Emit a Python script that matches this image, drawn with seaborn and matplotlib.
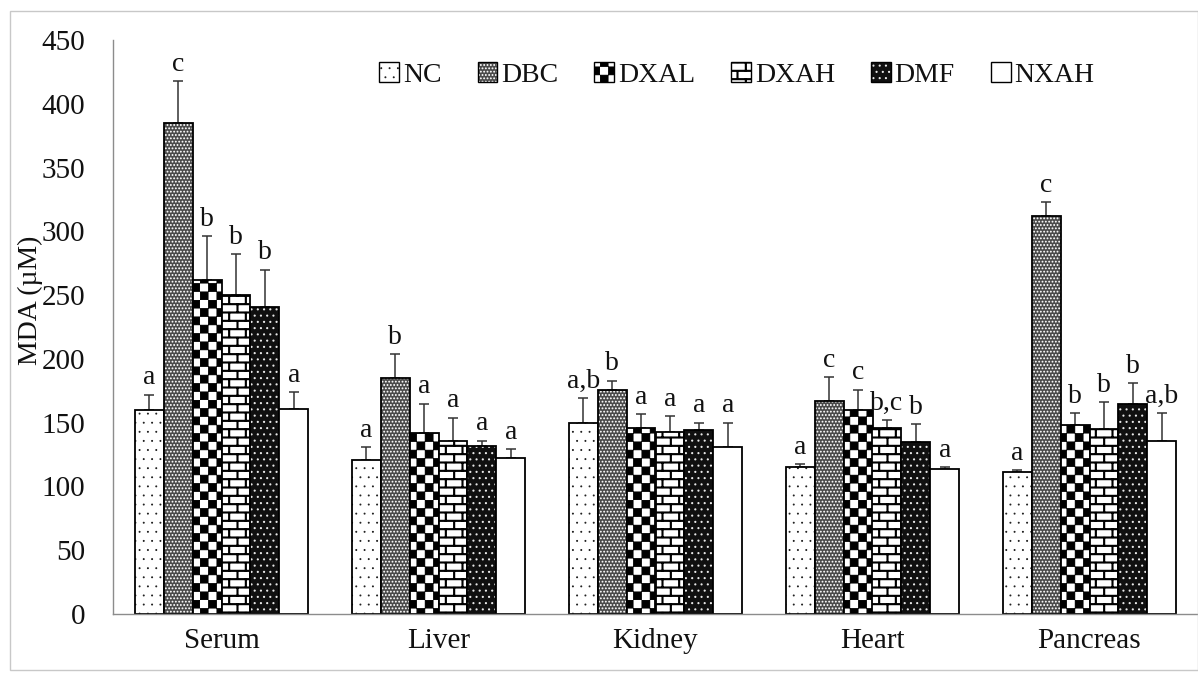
import numpy as np
import pandas as pd
import matplotlib
matplotlib.use("Agg")
import matplotlib.pyplot as plt
import matplotlib.hatch as mhatch
from matplotlib.path import Path
from matplotlib.patches import Patch, Rectangle
from matplotlib.colors import to_rgba
import seaborn as sns

# ---------------------------------------------------------------- data
tissues = ["Serum", "Liver", "Kidney", "Heart", "Pancreas"]
groups = ["NC", "DBC", "DXAL", "DXAH", "DMF", "NXAH"]

nc_mean = [160, 121, 150, 115, 111]
dbc_mean = [385, 185, 176, 167, 312]
dxal_mean = [262, 142, 146, 160, 148]
dxah_mean = [250, 136, 143, 146, 145]
dmf_mean = [241, 132, 144, 135, 165]
nxah_mean = [161, 122, 131, 114, 136]

nc_sd = [12, 10, 19, 2.5, 2]
dbc_sd = [33, 19, 7, 19, 11]
dxal_sd = [34, 23, 11, 16, 9.5]
dxah_sd = [32, 18, 12, 6, 21]
dmf_sd = [29, 4, 6, 14, 16]
nxah_sd = [13, 7, 19, 1.5, 21.5]

nc_sig = ["a", "a", "a,b", "a", "a"]
dbc_sig = ["c", "b", "b", "c", "c"]
dxal_sig = ["b", "a", "a", "c", "b"]
dxah_sig = ["b", "a", "a", "b,c", "b"]
dmf_sig = ["b", "a", "a", "b", "b"]
nxah_sig = ["a", "a", "a", "a", "a,b"]

means = [nc_mean, dbc_mean, dxal_mean, dxah_mean, dmf_mean, nxah_mean]
sds = [nc_sd, dbc_sd, dxal_sd, dxah_sd, dmf_sd, nxah_sd]
sigs = [nc_sig, dbc_sig, dxal_sig, dxah_sig, dmf_sig, nxah_sig]

# ------------------------------------------------- fill patterns per group
def _poly(pts):
    v = list(pts) + [pts[0]]
    c = [Path.MOVETO] + [Path.LINETO] * (len(pts) - 1) + [Path.CLOSEPOLY]
    return v, c


def _rect(x0, y0, x1, y1):
    return _poly([(x0, y0), (x1, y0), (x1, y1), (x0, y1)])


def _dot(cx, cy, r, n=8):
    ang = np.linspace(0, 2 * np.pi, n, endpoint=False)
    return _poly([(cx + r * np.cos(a), cy + r * np.sin(a)) for a in ang])


def _join(parts):
    verts = np.concatenate([np.asarray(v, float) for v, _ in parts])
    codes = np.concatenate([np.asarray(c, dtype=Path.code_type) for _, c in parts])
    return verts, codes


def dot_lattice(ncol, nrow, r):
    parts = []
    for j in range(nrow):
        y = (j + 0.5) / nrow
        for i in range(ncol):
            x = (i + 0.25 + 0.5 * (j % 2)) / ncol
            parts.append(_dot(x, y, r))
    return _join(parts)


def checkerboard(n, inset):
    s = 1.0 / n
    parts = []
    for j in range(n):
        for i in range(n):
            if (i + j) % 2 == 0:
                parts.append(_rect(i * s + inset, j * s + inset,
                                   (i + 1) * s - inset, (j + 1) * s - inset))
    return _join(parts)


def bricks(nrow, ncol, t):
    h = 1.0 / nrow
    L = 1.0 / ncol
    parts = []
    for k in range(nrow):
        y = (k + 0.5) * h
        parts.append(_rect(0, y - t / 2, 1, y + t / 2))
    for k in range(nrow):
        y0, y1 = (k + 0.5) * h, (k + 1.5) * h
        spans = [(y0, min(y1, 1.0))]
        if y1 > 1.0:
            spans.append((0.0, y1 - 1.0))
        for m in range(ncol):
            x = (m + 0.25 + 0.5 * (k % 2)) * L
            for a, b in spans:
                parts.append(_rect(x - t / 2, a, x + t / 2, b))
    return _join(parts)


class TileHatch(mhatch.HatchPatternBase):
    """Hatch made of pre-built filled tiles, one per pattern character."""
    tiles = {}

    def __init__(self, hatch, density):
        self.parts = [self.tiles[ch] for ch in (hatch or "") if ch in self.tiles]
        self.num_vertices = int(sum(len(v) for v, _ in self.parts))

    def set_vertices_and_codes(self, vertices, codes):
        i = 0
        for v, c in self.parts:
            n = len(v)
            vertices[i:i + n] = v
            codes[i:i + n] = c
            i += n


TileHatch.tiles = {
    ".": dot_lattice(12, 11, 0.0045),      # NC: sparse dark dots
    "o": dot_lattice(30, 30, 0.0042),      # DBC: fine light dots on grey
    "*": checkerboard(12, 0.0035),         # DXAL: checkerboard
    "-": bricks(12, 6, 0.010),             # DXAH: brick wall
    "O": dot_lattice(16, 16, 0.0055),      # DMF: light dots on black
}
mhatch._hatch_types = [TileHatch]
Path.hatch.cache_clear()

face = {"NC": "white", "DBC": "#4a4a4a", "DXAL": "white",
        "DXAH": "white", "DMF": "#101010", "NXAH": "white"}
hatch = {"NC": ".", "DBC": "o", "DXAL": "*", "DXAH": "-", "DMF": "O", "NXAH": ""}
hatch_col = {"NC": "#222222", "DBC": "#f2f2f2", "DXAL": "black",
             "DXAH": "black", "DMF": "#e8e8e8", "NXAH": "black"}


def set_hatch_colour(p, c):
    if hasattr(p, "set_hatchcolor"):
        p.set_hatchcolor(c)
    else:
        p._hatch_color = to_rgba(c)


# ---------------------------------------------------------------- style
sns.set_theme(style="white")
plt.rcParams["font.family"] = ["Liberation Serif", "DejaVu Serif"]
plt.rcParams["hatch.linewidth"] = 0.8

W, H, DPI = 1198, 673, 100
fig = plt.figure(figsize=(W / DPI, H / DPI), dpi=DPI, facecolor="white")
ax = fig.add_axes([113 / W, 1 - 614 / H, (W - 113) / W, (614 - 40) / H])
ax.set_facecolor("white")

rows = []
for g, vals in zip(groups, means):
    for t, v in zip(tissues, vals):
        rows.append({"tissue": t, "group": g, "mda": v})
df = pd.DataFrame(rows)

sns.barplot(data=df, x="tissue", y="mda", hue="group", order=tissues,
            hue_order=groups, palette=face, saturation=1, errorbar=None,
            width=0.8, edgecolor="black", linewidth=1.3, legend=False, ax=ax)

for cont, g, m, s, sg in zip(ax.containers, groups, means, sds, sigs):
    xs = []
    for bar in cont:
        bar.set_hatch(hatch[g])
        set_hatch_colour(bar, hatch_col[g])
        bar.set_zorder(2)
        xs.append(bar.get_x() + bar.get_width() / 2)
    ax.errorbar(xs, m, yerr=[np.zeros(len(s)), s], fmt="none", ecolor="#333333",
                elinewidth=1.1, capsize=3.6, capthick=1.1, zorder=1)
    for x, v, e, lab in zip(xs, m, s, sg):
        ax.annotate(lab, (x, v + e), xytext=(0, 3), textcoords="offset points",
                    ha="center", va="bottom", fontsize=20, color="#111111")

# ---------------------------------------------------------------- axes
ax.set_xlim(-0.5, len(tissues) - 0.5)
ax.set_ylim(0, 450)
ax.set_yticks(np.arange(0, 451, 50))
ax.set_xticks(range(len(tissues)))
ax.set_xticklabels(tissues)
ax.set_xticks(np.arange(0.5, len(tissues) - 0.5, 1.0), minor=True)
ax.set_xlabel("")
ax.set_ylabel("")
for side in ("top", "right"):
    ax.spines[side].set_visible(False)
for side in ("left", "bottom"):
    ax.spines[side].set_color("#8c8c8c")
    ax.spines[side].set_linewidth(1.0)
ax.tick_params(axis="y", which="major", direction="out", length=6, width=1,
               color="#8c8c8c", labelsize=21, pad=14, labelcolor="#111111")
ax.tick_params(axis="x", which="major", length=0, labelsize=21, pad=10,
               labelcolor="#111111")
ax.tick_params(axis="x", which="minor", direction="out", length=6, width=1,
               color="#8c8c8c")
ax.grid(False)

fig.text(30 / W, 1 - 300 / H, "MDA (µM)", rotation=90, ha="center",
         va="center", fontsize=20, color="#111111")

handles = [Patch(facecolor=face[g], edgecolor="black", linewidth=1.0,
                 hatch=hatch[g], label=g) for g in groups]
leg = fig.legend(handles=handles, loc="center", ncol=6, frameon=False,
                 bbox_to_anchor=(737 / W, 1 - 75 / H), fontsize=20,
                 handlelength=0.7, handleheight=0.7, handletextpad=0.15,
                 columnspacing=1.3)
for p, g in zip(leg.get_patches(), groups):
    set_hatch_colour(p, hatch_col[g])
for t in leg.get_texts():
    t.set_color("#111111")

fig.patches.append(Rectangle((10 / W, 0.004), 1 - 10 / W, 1 - 11 / H - 0.004,
                             transform=fig.transFigure, fill=False,
                             edgecolor="#c8c8c8", linewidth=1.0))

fig.savefig("out.png", dpi=DPI, facecolor="white")
